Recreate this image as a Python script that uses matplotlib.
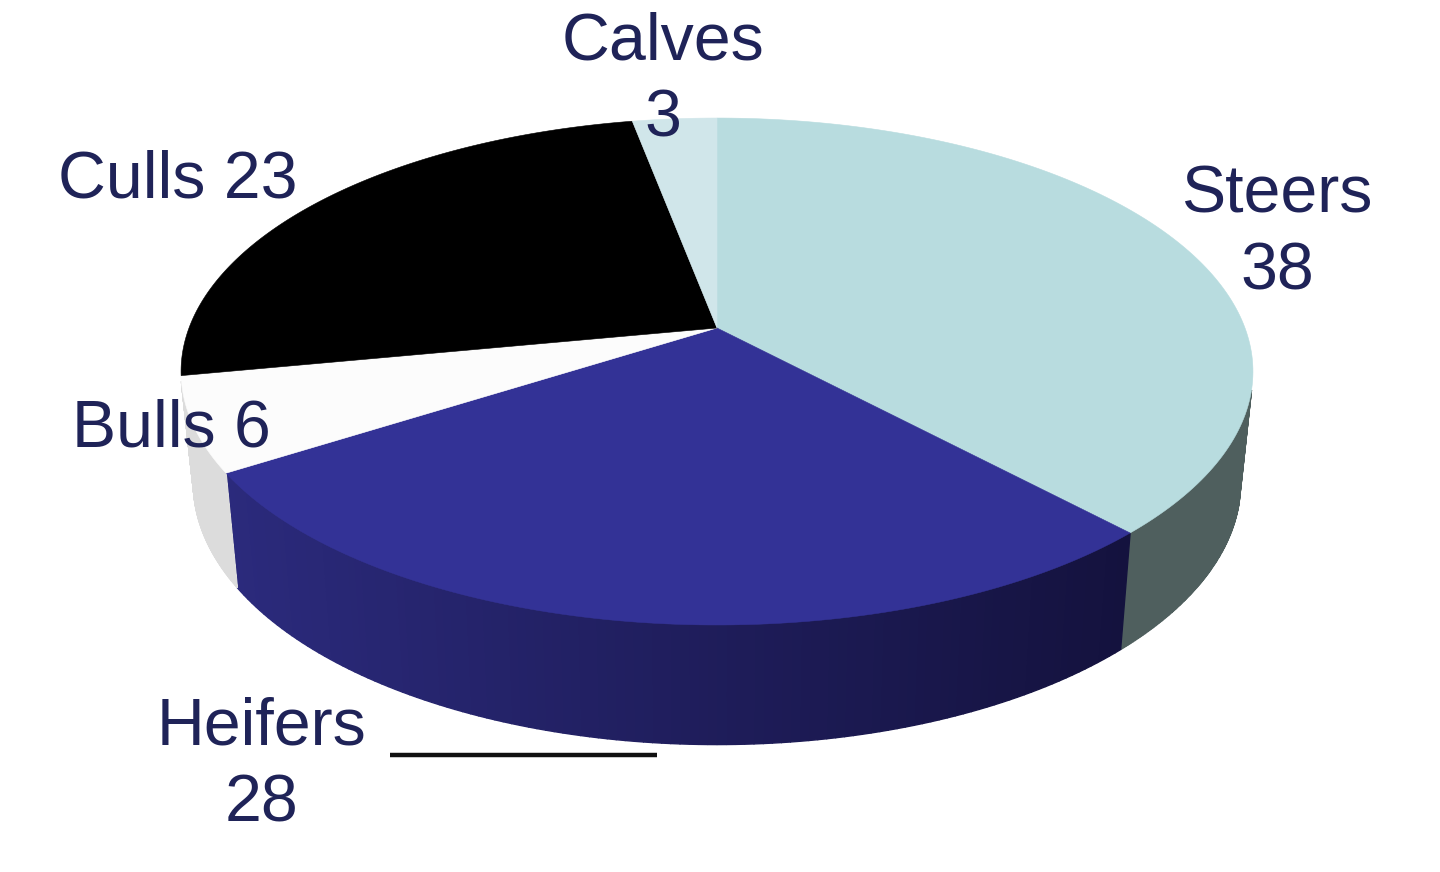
import numpy as np
import matplotlib
matplotlib.use("Agg")
import matplotlib.pyplot as plt
from matplotlib.colors import to_rgb

# Data
categories = ["Steers", "Heifers", "Bulls", "Culls", "Calves"]
# Slice sizes (the Culls slice is drawn at about 25)
slice_sizes = [38, 28, 6, 25, 3]
top_colors = ["#b8dcdf", "#333296", "#fcfcfc", "#000000", "#d0e6ea"]
wall_left = ["#4f5f5e", "#2b2a7c", "#dcdcdc", "#000000", "#d0e6ea"]
wall_right = ["#4f5f5e", "#14123e", "#dcdcdc", "#000000", "#d0e6ea"]
# Printed labels
label_texts = ["Steers\n38", "Heifers\n28", "Bulls 6", "Culls 23", "Calves\n3"]
label_pos = [(1277, 234), (261, 766), (171, 429), (178, 181), (663, 81)]
TEXT = "#1f2358"

# View of the tilted pie (pixel-like axes)
CX, CY = 717.0, 328.0
A, B, K = 528.0, 246.0, 0.1716
VISIBLE = np.radians([104.0, 258.0])


def project(theta):
    """Perspective projection of the disc rim; theta runs clockwise from 12 o'clock."""
    w = 1 + K * np.cos(theta)
    return CX + A * np.sin(theta) / w, CY - B * np.cos(theta) / w


def lower(x, y):
    """Matching point on the bottom rim of the disc."""
    return CX + 0.977 * (x - CX), 1.033 * y + 99.0


fig = plt.figure(figsize=(14.4, 8.72), dpi=100)
ax = fig.add_axes([0, 0, 1, 1])
ax.set_xlim(0, 1440)
ax.set_ylim(872, 0)
ax.axis("off")

edges = np.concatenate([[0], np.cumsum(slice_sizes)]) / np.sum(slice_sizes) * 2 * np.pi

# Side walls (only the part of the rim facing the viewer)
for i in range(len(categories)):
    lo, hi = max(edges[i], VISIBLE[0]), min(edges[i + 1], VISIBLE[1])
    if hi <= lo:
        continue
    th = np.linspace(lo, hi, 120)
    x, y = project(th)
    bx, by = lower(x, y)
    c_l, c_r = np.array(to_rgb(wall_left[i])), np.array(to_rgb(wall_right[i]))
    for j in range(len(th) - 1):
        f = np.clip((x[j] - 228) / (1130 - 228), 0, 1)
        c = c_l + (c_r - c_l) * f
        ax.fill([x[j], x[j + 1], bx[j + 1], bx[j]], [y[j], y[j + 1], by[j + 1], by[j]],
                facecolor=c, edgecolor=c, lw=1.0, zorder=1)

# Top faces
for i in range(len(categories)):
    th = np.linspace(edges[i], edges[i + 1], 150)
    x, y = project(th)
    ax.fill(np.r_[CX, x], np.r_[CY, y], color=top_colors[i], lw=0.4, zorder=2)

# Leader line for Heifers
ax.plot([390, 657], [755, 755], color="#111111", lw=3.2, solid_capstyle="butt", zorder=3)

for s, (px, py) in zip(label_texts, label_pos):
    ax.text(px, py, s, ha="center", va="center", color=TEXT, fontsize=47.7,
            family="Liberation Sans", linespacing=1.3, zorder=4)

fig.savefig("out.png", dpi=100, facecolor="white")
